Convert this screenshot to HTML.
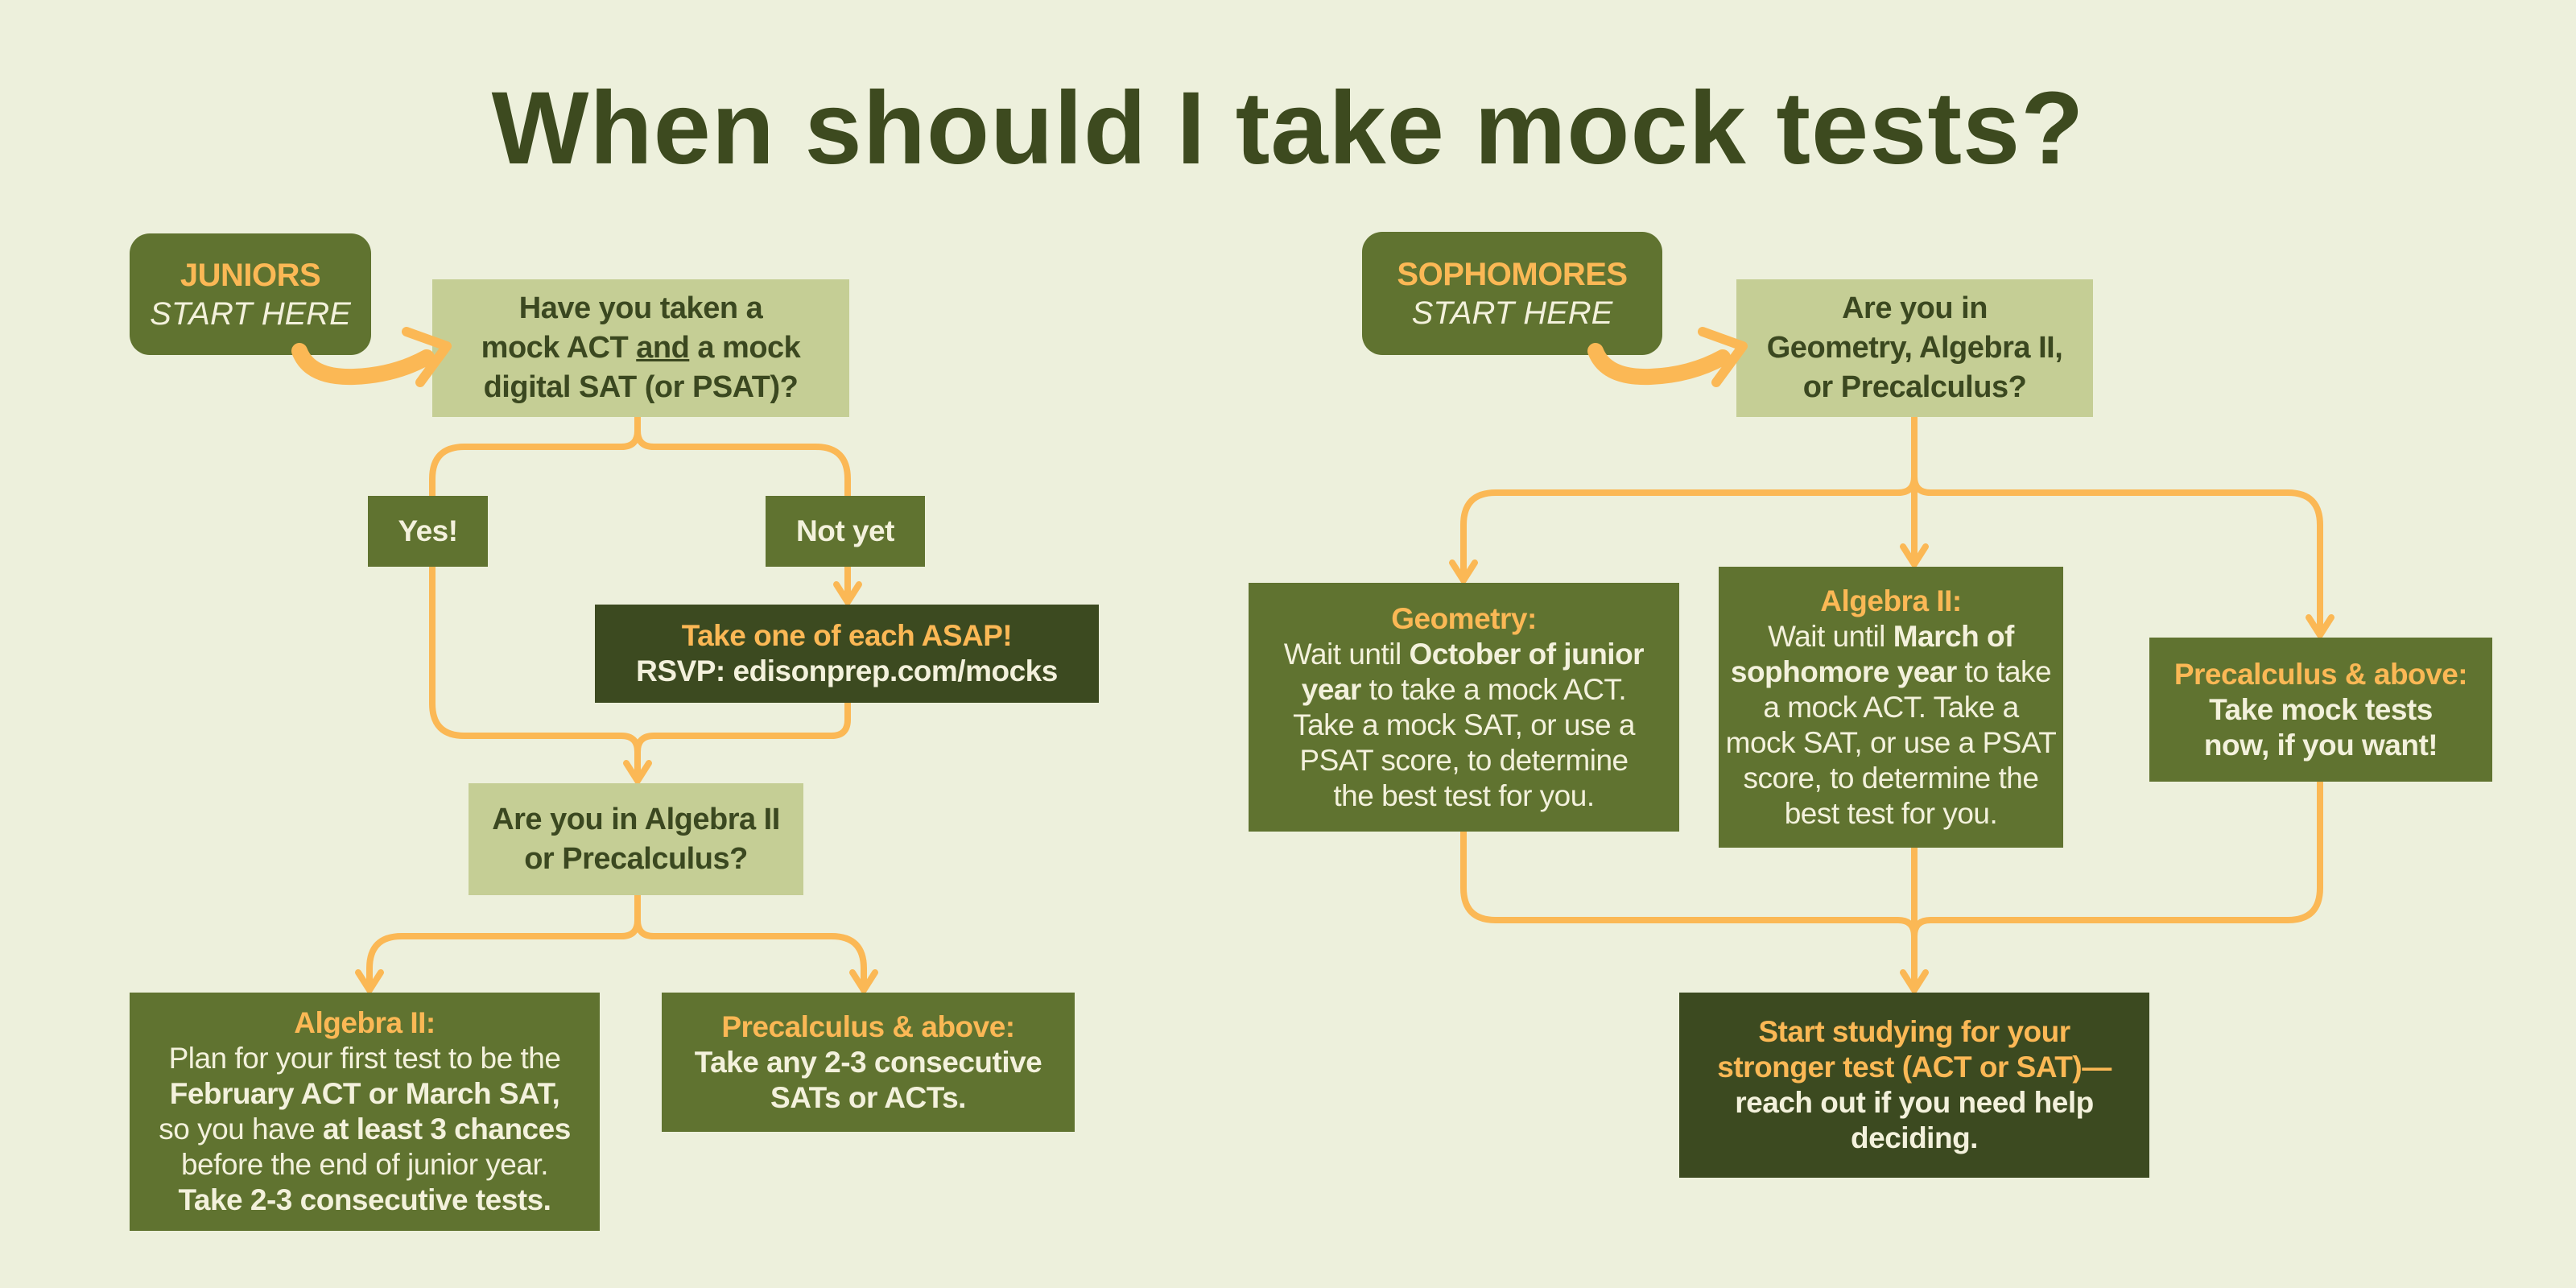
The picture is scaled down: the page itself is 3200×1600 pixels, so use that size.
<!DOCTYPE html>
<html><head><meta charset="utf-8"><style>
html,body{margin:0;padding:0}
body{width:3200px;height:1600px;background:#edf0dc;position:relative;overflow:hidden;font-family:"Liberation Sans",sans-serif}
.b{position:absolute;display:flex;justify-content:center;align-items:center;text-align:center;box-sizing:border-box;font-size:37px;line-height:44px;letter-spacing:-0.5px}
.b>div{width:100%}
.g{background:#607330;color:#f3f1dc}
.l{background:#c5ce95;color:#3b4820;font-weight:bold;font-size:38px;line-height:49px}
.d{background:#3c4a20;color:#f3f1dc;font-weight:bold}
.o{color:#fbb855;font-weight:bold}
b{font-weight:bold}
h1{position:absolute;left:0;top:80px;width:3200px;margin:0;text-align:center;font-size:128px;line-height:160px;color:#3d4a1f;font-weight:bold;letter-spacing:1px}
svg{position:absolute;left:0;top:0}
</style></head><body>
<h1>When should I take mock tests?</h1>
<svg width="3200" height="1600" fill="none" stroke="#fbb855" stroke-width="8" stroke-linecap="round" stroke-linejoin="round">
<path d="M792 518 V535 Q792 555 772 555 H577 Q537 555 537 595 V616"/>
<path d="M792 535 Q792 555 812 555 H1013 Q1053 555 1053 595 V616"/>
<path d="M1053 704 V748 M1039 726 L1053 748 L1067 726"/>
<path d="M537 704 V874 Q537 914 577 914 H772 Q792 914 792 934 V970 M778 948 L792 970 L806 948"/>
<path d="M1053 873 V894 Q1053 914 1033 914 H812 Q792 914 792 934"/>
<path d="M792 1112 V1143 Q792 1163 772 1163 H499 Q459 1163 459 1203 V1230 M445 1208 L459 1230 L473 1208"/>
<path d="M792 1143 Q792 1163 812 1163 H1033 Q1073 1163 1073 1203 V1230 M1059 1208 L1073 1230 L1087 1208"/>
<path d="M2378 518 V592 Q2378 612 2358 612 H1858 Q1818 612 1818 652 V721 M1804 699 L1818 721 L1832 699"/>
<path d="M2378 592 Q2378 612 2398 612 H2842 Q2882 612 2882 652 V789 M2868 767 L2882 789 L2896 767"/>
<path d="M2378 560 V701 M2364 679 L2378 701 L2392 679"/>
<path d="M1818 1033 V1103 Q1818 1143 1858 1143 H2358 Q2378 1143 2378 1163"/>
<path d="M2882 971 V1103 Q2882 1143 2842 1143 H2398 Q2378 1143 2378 1163"/>
<path d="M2378 1053 V1230 M2364 1208 L2378 1230 L2392 1208"/>
</svg>
<div class="b g" style="left:161px;top:290px;width:300px;height:151px;border-radius:25px;font-size:40px;line-height:48px"><div><span class="o">JUNIORS</span><br><i style="letter-spacing:0">START HERE</i></div></div>
<div class="b l" style="left:537px;top:347px;width:518px;height:171px"><div>Have you taken a<br>mock ACT <u>and</u> a mock<br>digital SAT (or PSAT)?</div></div>
<div class="b g" style="left:457px;top:616px;width:149px;height:88px;font-weight:bold;font-size:37px"><div>Yes!</div></div>
<div class="b g" style="left:951px;top:616px;width:198px;height:88px;font-weight:bold;font-size:37px"><div>Not yet</div></div>
<div class="b d" style="left:739px;top:751px;width:626px;height:122px;font-size:37px"><div><span class="o">Take one of each ASAP!</span><br>RSVP: edisonprep.com/mocks</div></div>
<div class="b l" style="left:582px;top:973px;width:416px;height:139px"><div>Are you in Algebra II<br>or Precalculus?</div></div>
<div class="b g" style="left:161px;top:1233px;width:584px;height:296px"><div><span class="o">Algebra II:</span><br>Plan for your first test to be the<br><b>February ACT or March SAT,</b><br>so you have <b>at least 3 chances</b><br>before the end of junior year.<br><b>Take 2-3 consecutive tests.</b></div></div>
<div class="b g" style="left:822px;top:1233px;width:513px;height:173px;font-weight:bold"><div><span class="o">Precalculus &amp; above:</span><br>Take any 2-3 consecutive<br>SATs or ACTs.</div></div>

<div class="b g" style="left:1692px;top:288px;width:373px;height:153px;border-radius:25px;font-size:40px;line-height:48px"><div><span class="o">SOPHOMORES</span><br><i style="letter-spacing:0">START HERE</i></div></div>
<div class="b l" style="left:2157px;top:347px;width:443px;height:171px"><div>Are you in<br>Geometry, Algebra II,<br>or Precalculus?</div></div>
<div class="b g" style="left:1551px;top:724px;width:535px;height:309px"><div><span class="o">Geometry:</span><br>Wait until <b>October of junior</b><br><b>year</b> to take a mock ACT.<br>Take a mock SAT, or use a<br>PSAT score, to determine<br>the best test for you.</div></div>
<div class="b g" style="left:2135px;top:704px;width:428px;height:349px"><div><span class="o">Algebra II:</span><br>Wait until <b>March of</b><br><b>sophomore year</b> to take<br>a mock ACT. Take a<br>mock SAT, or use a PSAT<br>score, to determine the<br>best test for you.</div></div>
<div class="b g" style="left:2670px;top:792px;width:426px;height:179px;font-weight:bold"><div><span class="o">Precalculus &amp; above:</span><br>Take mock tests<br>now, if you want!</div></div>
<div class="b d" style="left:2086px;top:1233px;width:584px;height:230px"><div><span class="o">Start studying for your<br>stronger test (ACT or SAT)—</span><br>reach out if you need help<br>deciding.</div></div>
<svg width="3200" height="1600" fill="none" stroke="#fbb855" stroke-linecap="round" stroke-linejoin="round">
<g stroke-width="20">
<path d="M372 436 Q385 470 440 468 Q490 466 530 444"/>
<path d="M1982 436 Q1995 470 2050 468 Q2100 466 2140 444"/>
</g>
<g stroke-width="12">
<path d="M505 412 L555 430 L522 475"/>
<path d="M2115 412 L2165 430 L2132 475"/>
</g>
</svg>
</body></html>
